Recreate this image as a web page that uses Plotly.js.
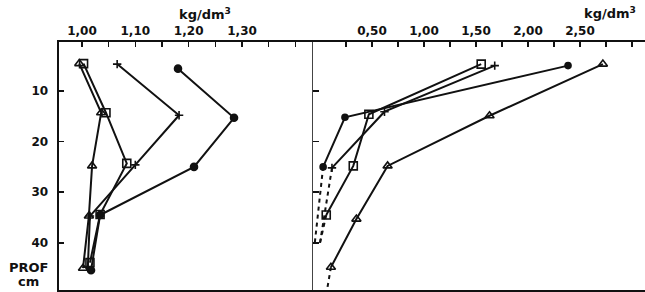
<!DOCTYPE html>
<html>
<head>
<meta charset="utf-8">
<script src="https://cdn.plot.ly/plotly-3.0.1.min.js"></script>
<style>html,body{margin:0;padding:0;background:#fff;}#chart{width:645px;height:292px;}</style>
</head>
<body>
<div id="chart"></div>
<script>
// ---- Left panel (kg/dm3, depth cm) ----
const leftFilledDepth = [5.6, 15.3, 25.0, 34.5, 45.4];
const leftFilledVal   = [1.18, 1.285, 1.21, 1.034, 1.017];
const leftPlusDepth   = [4.7, 14.8, 24.6, 34.7, 44.8];
const leftPlusVal     = [1.066, 1.182, 1.10, 1.015, 1.011];
const leftSquareDepth = [4.6, 14.3, 24.3, 34.4, 43.9];
const leftSquareVal   = [1.003, 1.045, 1.084, 1.034, 1.015];
const leftTriDepth    = [4.6, 14.3, 24.8, 34.7, 45.0];
const leftTriVal      = [0.995, 1.036, 1.019, 1.013, 1.002];

// ---- Right panel ----
const rightFilledDepth = [5.0, 15.2, 25.0];
const rightFilledVal   = [2.385, 0.24, 0.03];
const rightFilledExtDepth = [25.0, 40.0];
const rightFilledExtVal   = [0.03, -0.05];
const rightPlusDepth   = [5.0, 14.1, 25.2];
const rightPlusVal     = [1.68, 0.62, 0.115];
const rightPlusExtDepth = [25.2, 40.0];
const rightPlusExtVal   = [0.115, 0.0];
const rightSquareDepth = [4.7, 14.6, 24.8, 34.5];
const rightSquareVal   = [1.55, 0.47, 0.32, 0.06];
const rightSquareExtDepth = [34.5, 40.0];
const rightSquareExtVal   = [0.06, 0.0];
const rightTriDepth    = [4.7, 14.9, 24.8, 35.3, 44.8];
const rightTriVal      = [2.72, 1.63, 0.65, 0.35, 0.105];
const rightTriExtDepth = [44.8, 49.0];
const rightTriExtVal   = [0.105, 0.07];

// ---- Tick labels ----
const leftTickVals  = [0.95, 1.00, 1.05, 1.10, 1.15, 1.20, 1.25, 1.30, 1.35, 1.40];
const leftTickText  = ['', '1,00', '', '1,10', '', '1,20', '', '1,30', '', ''];
const rightTickVals = [0.25, 0.50, 0.75, 1.00, 1.25, 1.50, 1.75, 2.00, 2.25, 2.50, 2.75, 3.00];
const rightTickText = ['', '0,50', '', '1,00', '', '1,50', '', '2,00', '', '2,50', '', ''];
const depthTickVals = [10, 20, 30, 40];
const depthTickText = ['10', '20', '30', '40'];
const unitLabel = 'kg/dm<sup>3</sup>';

const K = '#111';
function solid(x, y, xa, ya, sym, size) {
  return {x: x, y: y, xaxis: xa, yaxis: ya, type: 'scatter', mode: 'lines+markers',
    line: {color: K, width: 2},
    marker: {symbol: sym, size: size, color: K, line: {color: K, width: 1.6}},
    showlegend: false, hoverinfo: 'skip'};
}
function dashed(x, y, xa, ya) {
  return {x: x, y: y, xaxis: xa, yaxis: ya, type: 'scatter', mode: 'lines',
    line: {color: K, width: 2, dash: '4px,4px'}, showlegend: false, hoverinfo: 'skip'};
}

const traces = [
  solid(leftFilledVal, leftFilledDepth, 'x', 'y', 'circle', 7),
  solid(leftPlusVal, leftPlusDepth, 'x', 'y', 'cross-thin-open', 6),
  solid(leftSquareVal, leftSquareDepth, 'x', 'y', 'square-open', 8),
  solid(leftTriVal, leftTriDepth, 'x', 'y', 'triangle-up-open', 8),
  solid(rightFilledVal, rightFilledDepth, 'x2', 'y2', 'circle', 6),
  dashed(rightFilledExtVal, rightFilledExtDepth, 'x2', 'y2'),
  solid(rightPlusVal, rightPlusDepth, 'x2', 'y2', 'cross-thin-open', 6),
  dashed(rightPlusExtVal, rightPlusExtDepth, 'x2', 'y2'),
  solid(rightSquareVal, rightSquareDepth, 'x2', 'y2', 'square-open', 8),
  dashed(rightSquareExtVal, rightSquareExtDepth, 'x2', 'y2'),
  solid(rightTriVal, rightTriDepth, 'x2', 'y2', 'triangle-up-open', 8),
  dashed(rightTriExtVal, rightTriExtDepth, 'x2', 'y2')
];

const FONT = {family: 'DejaVu Sans', size: 12, color: K, weight: 'bold'};
const BIG = {family: 'DejaVu Sans', size: 13, color: K, weight: 'bold'};
const W = 645;
const layout = {
  width: 645, height: 292,
  margin: {l: 0, r: 0, t: 42, b: 2, pad: 0},
  paper_bgcolor: '#fff', plot_bgcolor: '#fff',
  showlegend: false,
  font: FONT,
  xaxis: {domain: [59 / W, 313 / W], range: [0.957, 1.433], side: 'top', anchor: 'y',
    tickmode: 'array', tickvals: leftTickVals, ticktext: leftTickText,
    ticks: 'inside', ticklen: 5, tickwidth: 1.5, tickcolor: K,
    showline: true, linecolor: K, linewidth: 2.5, mirror: true,
    showgrid: false, zeroline: false, tickfont: FONT},
  yaxis: {domain: [0, 1], range: [49.3, 0.34], anchor: 'x',
    tickmode: 'array', tickvals: depthTickVals, ticktext: depthTickText,
    ticks: 'inside', ticklen: 5, tickwidth: 1.5, tickcolor: K,
    showline: true, linecolor: K, linewidth: 2.5,
    showgrid: false, zeroline: false, tickfont: FONT, ticklabelstandoff: 6},
  xaxis2: {domain: [313 / W, 1], range: [-0.0673, 3.125], side: 'top', anchor: 'y2',
    tickmode: 'array', tickvals: rightTickVals, ticktext: rightTickText,
    ticks: 'inside', ticklen: 5, tickwidth: 1.5, tickcolor: K,
    showline: true, linecolor: K, linewidth: 2.5, mirror: true,
    showgrid: false, zeroline: false, tickfont: FONT},
  yaxis2: {domain: [0, 1], range: [49.3, 0.34], anchor: 'x2',
    tickmode: 'array', tickvals: depthTickVals, ticktext: ['', '', '', ''],
    ticks: 'inside', ticklen: 6, tickwidth: 1.5, tickcolor: K,
    showline: true, linecolor: '#444', linewidth: 1,
    showgrid: false, zeroline: false},
  annotations: [
    {text: unitLabel, x: 205, y: 14, xref: 'paper', yref: 'paper', showarrow: false, font: BIG},
    {text: unitLabel, x: 610, y: 13, xref: 'paper', yref: 'paper', showarrow: false, font: BIG},
    {text: 'PROF', x: 28, y: 267, xref: 'paper', yref: 'paper', showarrow: false, font: BIG},
    {text: 'cm', x: 28, y: 281, xref: 'paper', yref: 'paper', showarrow: false, font: BIG}
  ]
};
// convert pixel annotation positions to paper fractions
const pw = 645, ph = 292 - 42 - 2;
layout.annotations.forEach(a => {
  a.x = a.x / pw; a.y = (292 - 2 - a.y) / ph;
  a.xanchor = 'center'; a.yanchor = 'middle';
});

Plotly.newPlot('chart', traces, layout, {staticPlot: true, displayModeBar: false});
</script>
</body>
</html>
